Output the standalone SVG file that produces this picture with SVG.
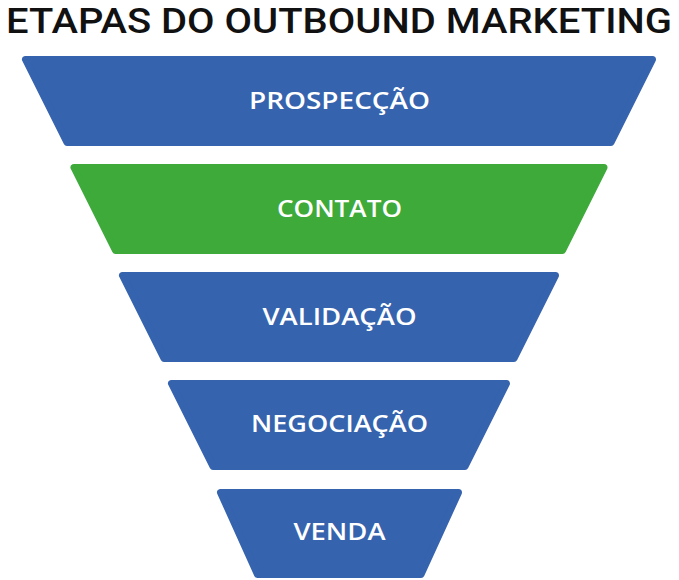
<svg xmlns="http://www.w3.org/2000/svg" width="679" height="580" viewBox="0 0 679 580">
<style>
.blue{fill:#3563AE;stroke:#3563AE;stroke-width:7;stroke-linejoin:round}
.green{fill:#3DAA3A;stroke:#3DAA3A;stroke-width:7;stroke-linejoin:round}
.lbl{font-family:"Open Sans","Noto Sans",sans-serif;font-weight:600;font-size:24px;fill:#fff;text-anchor:middle}
.title{font-family:Roboto,"Liberation Sans",sans-serif;font-weight:500;font-size:35px;fill:#111}
</style>
<rect width="679" height="580" fill="#fff"/>
<text class="title" x="6" y="33" textLength="666" lengthAdjust="spacingAndGlyphs">ETAPAS DO OUTBOUND MARKETING</text>
<g id="n1">
<polygon class="blue" points="25.5,59.5 652.5,59.5 611,142.5 67,142.5"/>
<text class="lbl" x="339.5" y="109" textLength="181" lengthAdjust="spacingAndGlyphs">PROSPECÇÃO</text>
</g>
<g id="n2">
<polygon class="green" points="74,167.5 604,167.5 562.5,250.5 115.5,250.5"/>
<text class="lbl" x="339.5" y="217" textLength="125" lengthAdjust="spacingAndGlyphs">CONTATO</text>
</g>
<g id="n3">
<polygon class="blue" points="122.5,275.5 555.5,275.5 514,358.5 164,358.5"/>
<text class="lbl" x="339.5" y="325" textLength="154" lengthAdjust="spacingAndGlyphs">VALIDAÇÃO</text>
</g>
<g id="n4">
<polygon class="blue" points="171.5,383.5 506.5,383.5 465,466.5 213,466.5"/>
<text class="lbl" x="339.5" y="432" textLength="177" lengthAdjust="spacingAndGlyphs">NEGOCIAÇÃO</text>
</g>
<g id="n5">
<polygon class="blue" points="220.5,492.5 458.5,492.5 421,574.5 257.5,574.5"/>
<text class="lbl" x="339.5" y="540" textLength="92" lengthAdjust="spacingAndGlyphs">VENDA</text>
</g>
<g id="connectors"/>
</svg>
